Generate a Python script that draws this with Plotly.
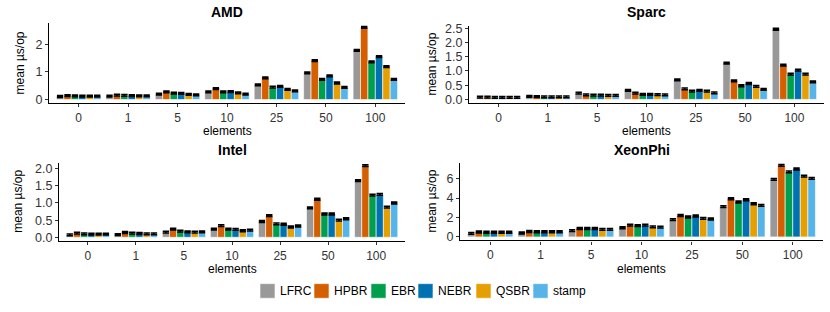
import plotly.graph_objects as go
from plotly.subplots import make_subplots

elements = ["0", "1", "5", "10", "25", "50", "100"]
schemes = ["LFRC", "HPBR", "EBR", "NEBR", "QSBR", "stamp"]
colors = ["#999999", "#D55E00", "#009F4D", "#0072B2", "#E69F00", "#56B4E9"]

# mean us/op per scheme (order of elements)
amd_lfrc  = [0.11, 0.12, 0.20, 0.28, 0.53, 0.97, 1.78]
amd_hpbr  = [0.14, 0.16, 0.28, 0.40, 0.79, 1.41, 2.62]
amd_ebr   = [0.13, 0.15, 0.23, 0.28, 0.45, 0.73, 1.37]
amd_nebr  = [0.12, 0.14, 0.22, 0.29, 0.48, 0.86, 1.56]
amd_qsbr  = [0.12, 0.13, 0.19, 0.24, 0.37, 0.60, 1.19]
amd_stamp = [0.12, 0.13, 0.17, 0.20, 0.31, 0.44, 0.73]

sparc_lfrc  = [0.08, 0.11, 0.22, 0.32, 0.69, 1.28, 2.47]
sparc_hpbr  = [0.08, 0.10, 0.16, 0.22, 0.37, 0.65, 1.21]
sparc_ebr   = [0.07, 0.09, 0.15, 0.18, 0.29, 0.48, 0.89]
sparc_nebr  = [0.07, 0.09, 0.15, 0.18, 0.32, 0.56, 1.03]
sparc_qsbr  = [0.07, 0.09, 0.14, 0.17, 0.29, 0.46, 0.89]
sparc_stamp = [0.07, 0.09, 0.14, 0.16, 0.23, 0.35, 0.62]

intel_lfrc  = [0.07, 0.08, 0.15, 0.24, 0.46, 0.86, 1.65]
intel_hpbr  = [0.12, 0.14, 0.24, 0.34, 0.63, 1.11, 2.09]
intel_ebr   = [0.10, 0.12, 0.18, 0.24, 0.39, 0.68, 1.23]
intel_nebr  = [0.09, 0.11, 0.16, 0.23, 0.38, 0.68, 1.25]
intel_qsbr  = [0.09, 0.10, 0.15, 0.19, 0.30, 0.50, 0.88]
intel_stamp = [0.09, 0.10, 0.16, 0.21, 0.33, 0.54, 1.00]

xeon_lfrc  = [0.36, 0.40, 0.64, 0.94, 1.78, 3.12, 5.93]
xeon_hpbr  = [0.50, 0.56, 0.87, 1.21, 2.21, 3.93, 7.38]
xeon_ebr   = [0.48, 0.53, 0.87, 1.17, 2.05, 3.60, 6.70]
xeon_nebr  = [0.48, 0.53, 0.87, 1.21, 2.15, 3.83, 7.00]
xeon_qsbr  = [0.48, 0.53, 0.77, 1.04, 1.91, 3.42, 6.27]
xeon_stamp = [0.48, 0.53, 0.77, 1.01, 1.85, 3.25, 6.03]

# half-height of the error band per panel (us/op)
amd_err, sparc_err, intel_err, xeon_err = 0.03, 0.03, 0.025, 0.09

panels = [
    ("AMD", [amd_lfrc, amd_hpbr, amd_ebr, amd_nebr, amd_qsbr, amd_stamp], amd_err,
     [0, 1, 2], ["0", "1", "2"], [-0.14, 2.76]),
    ("Sparc", [sparc_lfrc, sparc_hpbr, sparc_ebr, sparc_nebr, sparc_qsbr, sparc_stamp], sparc_err,
     [0, 0.5, 1, 1.5, 2, 2.5], ["0.0", "0.5", "1.0", "1.5", "2.0", "2.5"], [-0.13, 2.58]),
    ("Intel", [intel_lfrc, intel_hpbr, intel_ebr, intel_nebr, intel_qsbr, intel_stamp], intel_err,
     [0, 0.5, 1, 1.5, 2], ["0.0", "0.5", "1.0", "1.5", "2.0"], [-0.11, 2.18]),
    ("XeonPhi", [xeon_lfrc, xeon_hpbr, xeon_ebr, xeon_nebr, xeon_qsbr, xeon_stamp], xeon_err,
     [0, 2, 4, 6], ["0", "2", "4", "6"], [-0.37, 7.67]),
]

W, H = 830, 312
# pixel geometry of each panel: (left, right, top, bottom)
boxes = [(49, 405, 20, 102), (469, 824, 22.7, 101.7), (59, 405, 162.7, 243.3), (460, 823, 162.7, 242.7)]
title_y = [8.5, 8.5, 150, 150]
ytitle_x = [20, 432, 18, 432]
xtitle_y = [130.5, 130.5, 272, 272]

FONT = "Liberation Sans, Arial, sans-serif"
TICKC = "#333333"
fig = make_subplots(rows=2, cols=2)

annotations = []
shapes = []
for i, (name, series, err, tv, tt, yr) in enumerate(panels):
    r, c = i // 2 + 1, i % 2 + 1
    for j, s in enumerate(schemes):
        fig.add_trace(go.Bar(
            x=elements, y=series[j], name=s, marker_color=colors[j],
            marker_line=dict(color="white", width=0.6),
            error_y=dict(type="constant", value=err, color="black", thickness=1.6, width=3.2),
            showlegend=False, legendgroup=s,
        ), row=r, col=c)
    L, R, T, B = boxes[i]
    xa = "xaxis" if i == 0 else f"xaxis{i+1}"
    ya = "yaxis" if i == 0 else f"yaxis{i+1}"
    fig.layout[xa].update(domain=[L / W, R / W], type="category", range=[-0.6, 6.6],
                          showline=True, linecolor="black", linewidth=1.2,
                          ticks="outside", ticklen=3, tickcolor=TICKC,
                          showgrid=False, tickfont=dict(size=12, color=TICKC, family=FONT))
    fig.layout[ya].update(domain=[1 - B / H, 1 - T / H], range=yr, tickvals=tv, ticktext=tt,
                          showline=True, linecolor="black", linewidth=1.2,
                          ticks="outside", ticklen=3, tickcolor=TICKC, zeroline=False,
                          showgrid=False, tickfont=dict(size=12.5, color=TICKC, family=FONT))
    cx = (L + R) / 2 / W
    annotations.append(dict(text=f"<b>{name}</b>", x=cx, y=1 - title_y[i] / H,
                            xref="paper", yref="paper",
                            showarrow=False, xanchor="center", yanchor="middle",
                            font=dict(size=14, color="black", family=FONT)))
    annotations.append(dict(text="elements", x=cx, y=1 - xtitle_y[i] / H, xref="paper", yref="paper",
                            showarrow=False, xanchor="center", yanchor="middle", borderpad=0,
                            font=dict(size=12, color="black", family=FONT)))
    annotations.append(dict(text="mean µs/op", x=ytitle_x[i] / W, y=1 - (T + B) / 2 / H,
                            xref="paper", yref="paper", textangle=-90,
                            showarrow=False, xanchor="center", yanchor="middle",
                            font=dict(size=12, color="black", family=FONT)))

# legend keys drawn at the bottom (pixel positions of the squares)
key_left = [260, 314, 371, 418, 476, 533]
key_top, key_size = 287, 15
for j, s in enumerate(schemes):
    x0 = key_left[j]
    shapes.append(dict(type="rect", xref="paper", yref="paper",
                       x0=x0 / W, x1=(x0 + key_size) / W,
                       y0=1 - (key_top + key_size) / H, y1=1 - key_top / H,
                       fillcolor=colors[j], line=dict(color="white", width=0.6)))
    annotations.append(dict(text=s, x=(x0 + key_size + 4) / W, y=1 - (key_top + key_size / 2) / H,
                            xref="paper", yref="paper", showarrow=False, borderpad=0,
                            xanchor="left", yanchor="middle",
                            font=dict(size=12, color="black", family=FONT)))

fig.update_layout(
    width=W, height=H, margin=dict(l=0, r=0, t=0, b=0),
    paper_bgcolor="white", plot_bgcolor="white",
    barmode="group", bargap=0.1, bargroupgap=0,
    font=dict(family=FONT, size=11, color="black"),
    annotations=annotations, shapes=shapes, showlegend=False,
)

fig.write_html("out.html", config={"displayModeBar": False},
               post_script="document.body.style.margin='0';")
